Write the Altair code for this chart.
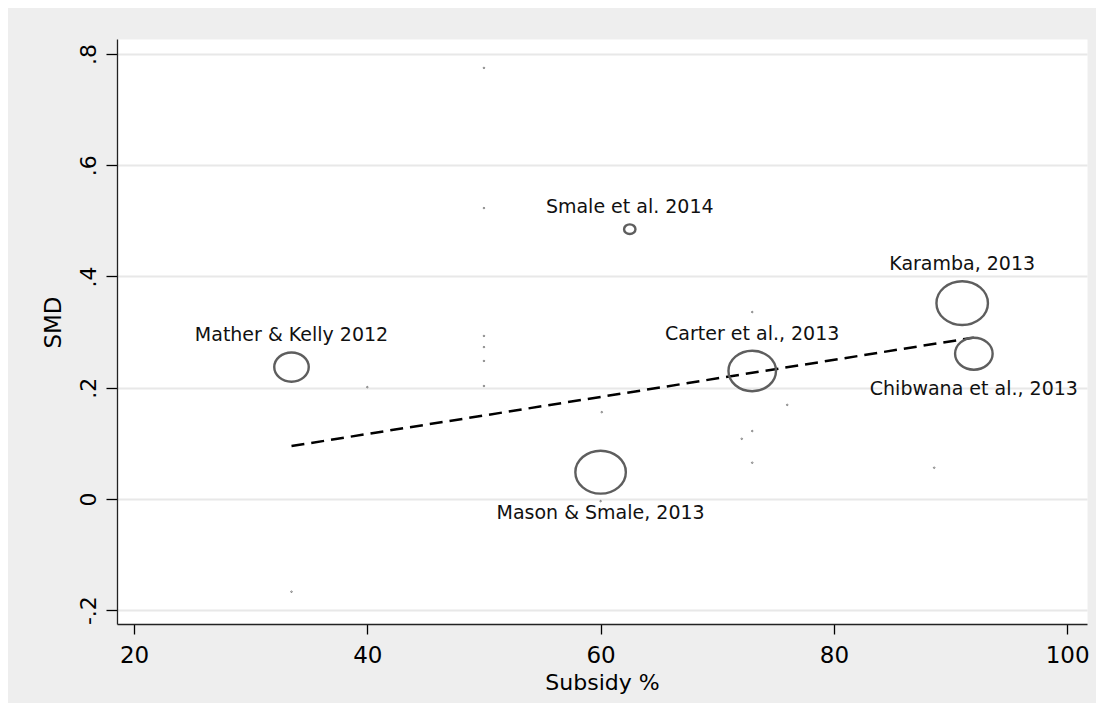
import altair as alt
import pandas as pd

# Labelled studies (bubbles)
study_label = ["Mather & Kelly 2012", "Smale et al. 2014", "Carter et al., 2013",
               "Mason & Smale, 2013", "Karamba, 2013", "Chibwana et al., 2013"]
study_subsidy = [33.5, 62.5, 73.0, 60.0, 91.0, 92.0]
study_smd = [0.237, 0.485, 0.230, 0.048, 0.352, 0.261]
study_weight = [11.9, 1.3, 22.6, 25.5, 26.5, 14.1]
study_labelpos = [12, 12, 12, 6, 12, 6]  # Stata clock position of the marker label

# Other (tiny-weight) estimates
other_subsidy = [50, 50, 50, 50, 50, 50, 40, 33.5, 73, 76, 73, 72.1, 73, 60.1, 60, 88.6]
other_smd = [0.775, 0.523, 0.293, 0.273, 0.248, 0.203, 0.201, -0.167,
             0.336, 0.169, 0.122, 0.108, 0.065, 0.156, -0.004, 0.056]
other_weight = [0.03, 0.03, 0.03, 0.03, 0.03, 0.03, 0.03, 0.03,
                0.03, 0.03, 0.03, 0.03, 0.03, 0.03, 0.03, 0.03]

# Fitted meta-regression line
fit_subsidy = [33.5, 92.0]
fit_smd = [0.095, 0.290]

x_ticks = [20, 40, 60, 80, 100]
y_ticks = [-0.2, 0, 0.2, 0.4, 0.6, 0.8]

studies = pd.DataFrame({"label": study_label, "subsidy": study_subsidy, "smd": study_smd,
                        "weight": study_weight, "labelpos": study_labelpos})
others = pd.DataFrame({"subsidy": other_subsidy, "smd": other_smd, "weight": other_weight})
points = pd.concat([studies[["subsidy", "smd", "weight"]], others], ignore_index=True)
fit = pd.DataFrame({"subsidy": fit_subsidy, "smd": fit_smd})

FONT = "DejaVu Sans"
ELLIPSE = "M -1 0 A 1 0.85 0 1 0 1 0 A 1 0.85 0 1 0 -1 0 Z"

xscale = alt.Scale(domain=[18.54, 101.7], nice=False, zero=False)
yscale = alt.Scale(domain=[-0.225, 0.827], nice=False, zero=False)

xaxis = alt.Axis(values=x_ticks, grid=False, labelFont=FONT, labelFontSize=23, labelColor="black",
                 labelBaseline="alphabetic", labelPadding=28, labelFlush=False, labelOverlap=False,
                 tickSize=10, tickColor="black", tickWidth=1.3, domainColor="#222222", domainWidth=1.3,
                 title="Subsidy %", titleFont=FONT, titleFontSize=22, titleFontWeight="normal",
                 titleColor="black", titleBaseline="alphabetic", titleAlign="center",
                 titleX=485, titleY=65)
yaxis = alt.Axis(values=y_ticks, grid=True, gridColor="#e8e8e8", gridWidth=2,
                 labelExpr="datum.value == 0 ? '0' : (datum.value < 0 ? '-' : '') + '.' + format(abs(datum.value) * 10, '.0f')",
                 labelFont=FONT, labelFontSize=22, labelColor="black", labelAngle=270,
                 labelAlign="center", labelBaseline="alphabetic", labelPadding=11,
                 labelFlush=False, labelOverlap=False,
                 tickSize=11, tickColor="black", tickWidth=1.3, domainColor="#222222", domainWidth=1.3,
                 title="SMD", titleFont=FONT, titleFontSize=23, titleFontWeight="normal",
                 titleColor="black", titleAngle=270, titleBaseline="alphabetic", titleAlign="center",
                 titleX=-57, titleY=283)

X = alt.X("subsidy:Q", scale=xscale, axis=xaxis)
Y = alt.Y("smd:Q", scale=yscale, axis=yaxis)

bubbles = alt.Chart(points).mark_point(shape=ELLIPSE, filled=False, color="#5e5e5e", opacity=1).encode(
    x=X, y=Y,
    size=alt.Size("weight:Q", scale=alt.Scale(type="linear", domain=[0, 100], range=[0, 10000]), legend=None),
    strokeWidth=alt.condition(alt.datum.weight > 1, alt.value(2.4), alt.value(0.8)),
)

fit_line = alt.Chart(fit).mark_line(color="black", strokeWidth=2.5, strokeDash=[13, 7]).encode(x=X, y=Y)

labels = alt.Chart(studies).transform_calculate(
    label_y="datum.smd + (datum.labelpos == 12 ? 1 : -1) * (4.25 * sqrt(datum.weight) + (datum.labelpos == 12 ? 17 : 19)) / 556"
).mark_text(font=FONT, fontSize=19, color="#111111", align="center", baseline="middle").encode(
    x=X,
    y=alt.Y("label_y:Q", scale=yscale, axis=yaxis),
    text="label:N",
)

chart = alt.layer(fit_line, bubbles, labels).properties(
    width=970, height=585,
    autosize=alt.AutoSizeParams(type="none"),
    padding={"left": 109, "top": 31, "right": 9, "bottom": 79},
    background="#eeeeee",
).configure_view(fill="white", stroke="transparent")

chart.save("out.html", embed_options={"renderer": "svg", "actions": False})
